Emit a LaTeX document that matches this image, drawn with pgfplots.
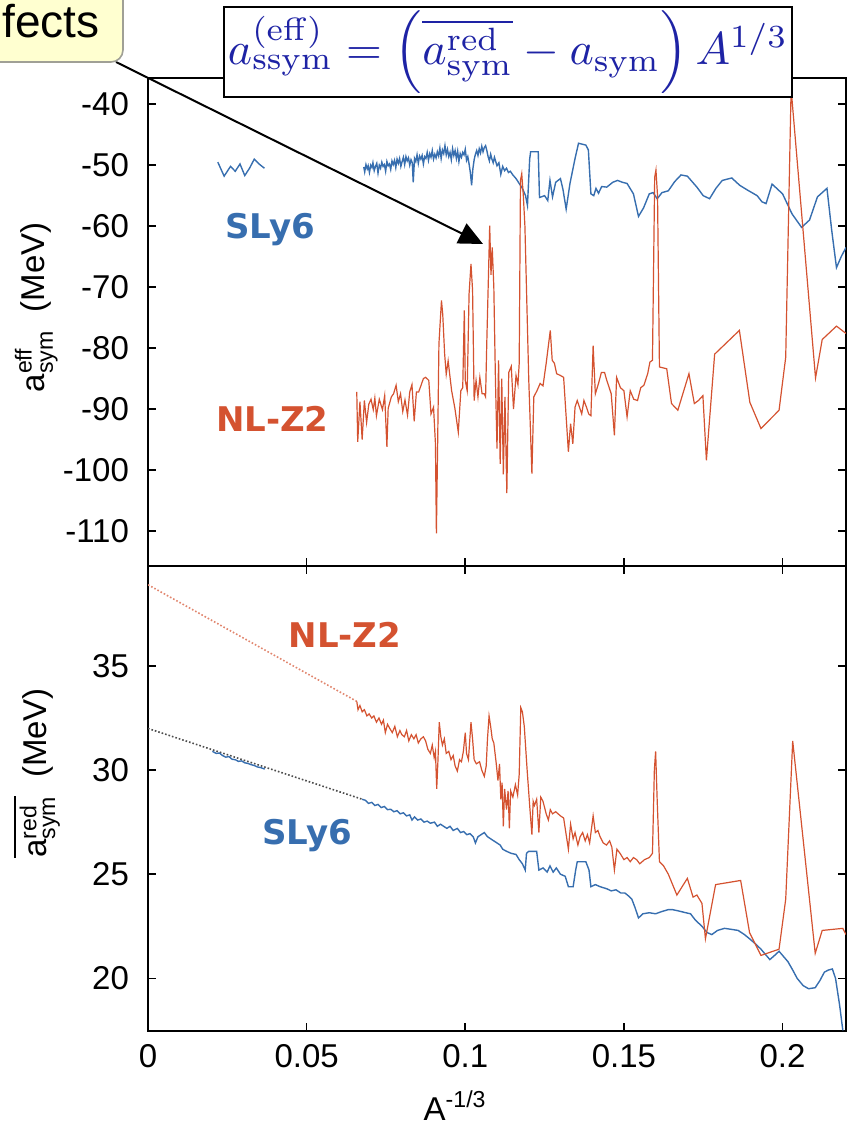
\documentclass[border=0pt]{standalone}
\usepackage{pgfplots}
\pgfplotsset{compat=1.18}
\usepackage{amsmath}
\usepackage{graphicx}
\usepackage[no-math]{fontspec}
\setmainfont{Liberation Sans}
\newfontfamily\labfont{DejaVu Sans}
\usetikzlibrary{arrows.meta}
\definecolor{slyblue}{RGB}{55,110,175}
\definecolor{nlred}{RGB}{212,82,48}
\definecolor{formblue}{RGB}{30,35,165}
\definecolor{calloutfill}{RGB}{255,255,208}
\definecolor{calloutedge}{RGB}{160,160,150}

\pgfplotsset{panel/.style={
  scale only axis, width=349pt, xmin=0, xmax=0.22,
  xtick={0,0.05,0.1,0.15,0.2},
  tick align=inside, major tick length=4pt,
  axis line style={line width=1pt},
  every tick/.style={black,line width=0.8pt},
  tick label style={font=\fontsize{16.5}{20}\selectfont},
  yticklabel style={xshift=-6pt},
  xticklabel style={yshift=-3pt},
  label style={font=\fontsize{16.5}{20}\selectfont},
  clip=true}}

\begin{document}
\begin{tikzpicture}
\useasboundingbox (0,0) rectangle (424.5pt,-571pt);

% ---------------- top panel ----------------
\begin{axis}[panel, at={(74pt,-39pt)}, anchor=north west, height=244pt,
  ymin=-115.75, ymax=-35.7,
  ytick={-110,-100,-90,-80,-70,-60,-50,-40},
  yticklabels={-110,-100,-90,-80,-70,-60,-50,-40},
  xticklabels={},
  ylabel={a$^{\text{eff}}_{\text{sym}}$\ \ (MeV)},
  ylabel style={at={(axis description cs:-0.16,0.53)},anchor=center}]
\addplot[slyblue, line width=0.7pt] coordinates {
(0.0220,-49.5)(0.0240,-51.8)(0.0260,-50.2)(0.0275,-51.0)(0.0290,-49.8)(0.0305,-51.7)
(0.0320,-50.5)(0.0335,-49.0)(0.0350,-49.8)(0.0367,-50.5)};
\addplot[slyblue, line width=0.7pt] coordinates {
(0.0680,-50.3)(0.0683,-51.1)(0.0687,-49.9)(0.0691,-50.6)(0.0694,-50.1)(0.0698,-51.2)
(0.0702,-50.0)(0.0706,-50.4)(0.0709,-49.6)(0.0713,-50.9)(0.0717,-50.2)(0.0721,-49.7)
(0.0725,-51.3)(0.0729,-50.0)(0.0733,-50.5)(0.0737,-49.5)(0.0741,-50.2)(0.0745,-49.9)
(0.0749,-51.0)(0.0753,-49.4)(0.0757,-50.1)(0.0761,-49.8)(0.0765,-50.7)(0.0769,-49.3)
(0.0773,-49.9)(0.0777,-49.2)(0.0781,-50.4)(0.0785,-49.0)(0.0789,-49.7)(0.0793,-48.9)
(0.0797,-50.2)(0.0801,-49.4)(0.0805,-48.7)(0.0809,-49.9)(0.0813,-48.6)(0.0817,-49.3)
(0.0821,-48.8)(0.0825,-50.0)(0.0829,-49.1)(0.0833,-49.6)(0.0836,-52.8)(0.0840,-48.9)
(0.0844,-49.4)(0.0848,-48.3)(0.0852,-49.7)(0.0856,-48.5)(0.0860,-49.0)(0.0864,-48.4)
(0.0868,-49.8)(0.0872,-48.6)(0.0876,-48.9)(0.0880,-47.9)(0.0884,-49.2)(0.0888,-48.1)
(0.0892,-48.7)(0.0896,-47.6)(0.0900,-49.0)(0.0904,-48.2)(0.0908,-48.8)(0.0912,-47.8)
(0.0916,-48.5)(0.0920,-47.2)(0.0924,-48.9)(0.0928,-47.5)(0.0932,-48.1)(0.0936,-46.8)
(0.0940,-48.3)(0.0944,-47.4)(0.0948,-48.6)(0.0952,-47.9)(0.0956,-49.1)(0.0960,-47.3)
(0.0964,-48.4)(0.0968,-47.6)(0.0972,-48.9)(0.0976,-47.7)(0.0980,-49.4)(0.0984,-48.1)
(0.0988,-48.7)(0.0992,-47.9)(0.0996,-48.3)(0.1000,-47.4)(0.1004,-49.2)(0.1008,-48.6)
(0.1012,-49.8)(0.1016,-51.2)(0.1020,-53.3)(0.1024,-50.6)(0.1028,-49.1)(0.1032,-48.2)
(0.1036,-47.6)(0.1040,-48.4)(0.1044,-47.3)(0.1048,-48.0)(0.1052,-46.9)(0.1056,-47.8)
(0.1060,-47.1)(0.1064,-46.8)(0.1068,-47.6)(0.1072,-48.6)(0.1076,-49.3)(0.1080,-48.2)
(0.1084,-49.0)(0.1088,-49.6)(0.1092,-48.7)(0.1096,-49.4)(0.1100,-50.1)(0.1106,-49.6)
(0.1112,-51.5)(0.1118,-50.2)(0.1124,-50.9)(0.1130,-50.5)(0.1136,-51.2)
(0.1142,-51.0)(0.1150,-51.6)(0.1160,-52.2)(0.1170,-53.0)(0.1180,-53.8)(0.1190,-55.0)
(0.1196,-56.6)(0.1203,-49.0)(0.1206,-47.8)(0.1230,-47.8)(0.1234,-55.3)(0.1250,-55.0)
(0.1260,-55.8)(0.1267,-52.5)(0.1275,-55.2)(0.1285,-52.8)(0.1300,-52.2)(0.1308,-54.0)
(0.1318,-57.2)(0.1330,-53.0)(0.1346,-48.9)(0.1357,-46.4)(0.1380,-46.7)(0.1388,-47.5)
(0.1396,-54.7)(0.1405,-55.0)(0.1412,-53.8)(0.1420,-54.6)(0.1430,-53.5)(0.1446,-53.6)
(0.1465,-52.8)(0.1480,-52.5)(0.1495,-52.8)(0.1510,-53.0)(0.1530,-54.7)(0.1546,-58.4)
(0.1562,-57.0)(0.1580,-54.7)(0.1592,-54.5)(0.1605,-55.5)(0.1620,-54.5)(0.1640,-54.2)
(0.1660,-52.7)(0.1680,-51.6)(0.1700,-51.8)(0.1730,-53.6)(0.1750,-55.0)(0.1770,-55.5)
(0.1790,-53.8)(0.1810,-52.5)(0.1840,-52.1)(0.1865,-53.3)(0.1890,-54.1)(0.1920,-55.0)
(0.1935,-56.0)(0.1948,-56.3)(0.1967,-53.1)(0.2000,-54.7)(0.2030,-58.0)(0.2060,-60.2)
(0.2085,-59.0)(0.2110,-55.2)(0.2140,-53.8)(0.2155,-60.7)(0.2170,-66.8)(0.2185,-65.0)
(0.2200,-63.5)};
\addplot[nlred, line width=0.6pt] coordinates {
(0.0658,-87.2)(0.0661,-95.4)(0.0668,-88.8)(0.0675,-95.0)(0.0682,-88.6)(0.0689,-92.2)
(0.0696,-89.2)(0.0703,-88.4)(0.0710,-90.1)(0.0715,-88.2)(0.0720,-91.1)(0.0729,-88.4)
(0.0739,-90.1)(0.0746,-87.8)(0.0753,-96.2)(0.0757,-89.9)(0.0767,-88.0)(0.0774,-87.5)
(0.0782,-86.1)(0.0789,-88.8)(0.0796,-87.5)(0.0803,-90.4)(0.0810,-88.5)(0.0818,-91.0)
(0.0825,-87.2)(0.0832,-86.0)(0.0839,-92.0)(0.0846,-87.2)(0.0853,-87.2)(0.0860,-86.2)
(0.0868,-85.0)(0.0875,-84.8)(0.0885,-85.3)(0.0892,-90.8)(0.0900,-89.7)(0.0906,-95.7)
(0.0909,-110.4)(0.0913,-95.4)(0.0917,-79.3)(0.0925,-72.2)(0.0929,-74.5)(0.0935,-81.0)
(0.0940,-84.3)(0.0946,-82.1)(0.0957,-87.0)(0.0967,-89.8)(0.0978,-93.8)(0.0986,-87.0)
(0.0992,-86.5)(0.0997,-73.8)(0.1000,-85.3)(0.1006,-87.0)(0.1012,-71.1)(0.1018,-66.2)
(0.1023,-70.5)(0.1028,-88.6)(0.1034,-85.3)(0.1040,-88.0)(0.1046,-84.8)(0.1053,-87.5)
(0.1060,-87.5)(0.1064,-88.0)(0.1068,-78.7)(0.1077,-59.9)(0.1081,-68.0)(0.1085,-63.5)
(0.1090,-70.0)(0.1095,-85.0)(0.1100,-96.5)(0.1105,-82.0)(0.1110,-99.0)(0.1115,-85.0)
(0.1120,-100.7)(0.1125,-88.0)(0.1131,-103.8)(0.1137,-84.0)(0.1145,-83.0)(0.1152,-90.0)
(0.1160,-84.5)(0.1166,-86.0)(0.1170,-82.5)(0.1174,-52.5)(0.1178,-51.4)(0.1183,-55.0)
(0.1188,-60.0)(0.1200,-85.0)(0.1210,-100.6)(0.1216,-88.0)(0.1226,-87.0)(0.1236,-85.8)
(0.1245,-86.2)(0.1255,-82.5)(0.1268,-77.1)(0.1274,-82.0)(0.1281,-82.5)(0.1288,-84.2)
(0.1300,-84.5)(0.1310,-84.8)(0.1318,-91.3)(0.1325,-97.0)(0.1332,-92.4)(0.1339,-95.7)
(0.1346,-89.7)(0.1353,-88.6)(0.1360,-89.7)(0.1367,-90.8)(0.1374,-88.6)(0.1382,-89.7)
(0.1389,-90.8)(0.1396,-91.1)(0.1403,-79.6)(0.1410,-87.5)(0.1420,-85.8)(0.1429,-84.0)
(0.1439,-84.0)(0.1446,-85.3)(0.1460,-87.5)(0.1470,-94.3)(0.1477,-84.8)(0.1489,-86.5)
(0.1500,-87.0)(0.1510,-91.3)(0.1520,-87.0)(0.1531,-88.4)(0.1543,-88.6)(0.1553,-86.5)
(0.1563,-86.1)(0.1575,-84.2)(0.1582,-82.3)(0.1590,-82.0)(0.1597,-52.0)(0.1601,-50.8)
(0.1606,-55.0)(0.1612,-83.1)(0.1635,-83.4)(0.1650,-89.1)(0.1670,-90.2)(0.1705,-84.2)
(0.1722,-89.1)(0.1735,-88.6)(0.1749,-87.8)(0.1760,-98.4)(0.1786,-81.0)(0.1864,-77.1)
(0.1897,-88.9)(0.1932,-93.2)(0.1989,-90.2)(0.2010,-81.5)(0.2027,-37.5)(0.2104,-84.9)
(0.2125,-78.6)(0.2170,-76.4)(0.2200,-77.6)};
\node[text=slyblue, font=\labfont\bfseries\fontsize{17}{20}\selectfont] at (axis cs:0.0385,-60.6) {SLy6};
\node[text=nlred, font=\labfont\bfseries\fontsize{17}{20}\selectfont] at (axis cs:0.0392,-91.6) {NL-Z2};
\end{axis}

% ---------------- bottom panel ----------------
\begin{axis}[panel, at={(74pt,-283pt)}, anchor=north west, height=232.5pt,
  ymin=17.47, ymax=39.8,
  ytick={20,25,30,35}, yticklabels={20,25,30,35},
  xticklabels={0,0.05,0.1,0.15,0.2},
  xlabel={A\textsuperscript{-1/3}},
  xlabel style={at={(axis description cs:0.44,-0.16)},anchor=center},
  ylabel={$\overline{\text{a}^{\text{red}}_{\text{sym}}}$\ \ (MeV)},
  ylabel style={at={(axis description cs:-0.16,0.555)},anchor=center}]
\addplot[nlred!70, line width=0.8pt, densely dotted] coordinates {(0,38.9)(0.0658,33.3)};
\addplot[black!70, line width=0.8pt, densely dotted] coordinates {(0,32.0)(0.0675,28.6)};
\addplot[slyblue, line width=0.7pt] coordinates {
(0.0203,30.9)(0.0215,30.8)(0.0225,30.82)(0.0235,30.7)(0.0245,30.62)(0.0255,30.65)
(0.0265,30.52)(0.0275,30.5)(0.0285,30.42)(0.0295,30.44)(0.0305,30.35)(0.0315,30.32)
(0.0325,30.26)(0.0335,30.22)(0.0345,30.15)(0.0355,30.12)(0.0368,30.05)};
\addplot[slyblue, line width=0.7pt] coordinates {
(0.0675,28.6)(0.0685,28.55)(0.0695,28.4)(0.0705,28.45)(0.0715,28.3)(0.0725,28.35)
(0.0735,28.2)(0.0745,28.25)(0.0755,28.1)(0.0765,28.12)(0.0775,28.0)(0.0785,28.05)
(0.0795,27.9)(0.0805,27.95)(0.0815,27.8)(0.0825,27.85)(0.0832,27.6)(0.0840,27.75)
(0.0850,27.6)(0.0860,27.65)(0.0870,27.5)(0.0880,27.55)(0.0890,27.45)(0.0903,27.5)
(0.0912,27.3)(0.0922,27.4)(0.0932,27.3)(0.0942,27.2)(0.0952,27.3)(0.0962,27.1)
(0.0975,27.2)(0.0985,27.0)(0.0995,27.05)(0.1005,26.9)(0.1015,26.95)(0.1025,26.8)
(0.1032,26.5)(0.1040,26.8)(0.1050,26.9)(0.1060,27.0)(0.1070,26.8)(0.1080,26.7)
(0.1090,26.6)(0.1100,26.5)(0.1110,26.4)(0.1118,26.2)(0.1130,26.1)(0.1145,26.0)
(0.1160,25.95)(0.1170,25.7)(0.1180,25.5)(0.1189,25.2)(0.1193,26.0)(0.1200,26.1)
(0.1225,26.1)(0.1232,25.2)(0.1245,25.3)(0.1258,25.1)(0.1267,25.4)(0.1277,25.1)
(0.1287,25.3)(0.1300,25.0)(0.1315,24.9)(0.1325,24.4)(0.1340,24.4)(0.1348,25.2)
(0.1353,25.6)(0.1380,25.6)(0.1390,25.2)(0.1396,24.4)(0.1410,24.5)(0.1425,24.4)
(0.1446,24.3)(0.1460,24.2)(0.1475,24.25)(0.1490,24.1)(0.1503,24.1)(0.1515,23.95)
(0.1525,23.8)(0.1535,23.4)(0.1546,22.9)(0.1560,23.1)(0.1580,23.15)(0.1600,23.1)
(0.1618,23.2)(0.1640,23.3)(0.1653,23.3)(0.1668,23.25)(0.1682,23.2)(0.1695,23.15)
(0.1710,23.1)(0.1725,22.8)(0.1746,22.5)(0.1762,22.2)(0.1777,22.1)(0.1795,22.3)
(0.1817,22.4)(0.1840,22.35)(0.1860,22.3)(0.1880,22.1)(0.1896,21.9)(0.1915,21.65)
(0.1932,21.4)(0.1946,21.15)(0.1960,20.9)(0.1975,21.1)(0.1989,21.3)(0.2003,21.05)
(0.2017,20.8)(0.2032,20.4)(0.2046,20.0)(0.2065,19.65)(0.2082,19.5)(0.2103,19.55)
(0.2118,19.9)(0.2132,20.3)(0.2145,20.4)(0.2157,20.45)(0.2167,20.0)(0.2180,18.7)
(0.2190,17.5)};
\addplot[nlred, line width=0.6pt] coordinates {
(0.0658,33.3)(0.0662,32.9)(0.0668,33.1)(0.0675,32.8)(0.0682,32.9)(0.0690,32.6)
(0.0697,32.7)(0.0705,32.5)(0.0712,32.6)(0.0720,32.3)(0.0728,32.5)(0.0736,32.2)
(0.0742,32.4)(0.0748,31.8)(0.0755,32.2)(0.0762,32.0)(0.0770,31.8)(0.0778,32.1)
(0.0786,31.6)(0.0794,31.9)(0.0800,31.7)(0.0808,31.6)(0.0815,31.9)(0.0822,31.4)
(0.0830,31.7)(0.0838,31.5)(0.0845,31.7)(0.0852,31.3)(0.0860,31.5)(0.0868,31.6)
(0.0875,31.4)(0.0882,31.0)(0.0890,30.8)(0.0896,31.2)(0.0902,30.6)(0.0906,30.9)
(0.0910,29.1)(0.0914,30.5)(0.0918,32.3)(0.0923,31.6)(0.0928,31.2)(0.0934,31.5)
(0.0940,30.8)(0.0948,30.9)(0.0955,30.5)(0.0962,30.7)(0.0968,30.2)(0.0975,29.95)
(0.0982,30.5)(0.0988,30.4)(0.0994,30.9)(0.1000,31.8)(0.1004,30.8)(0.1010,30.5)
(0.1018,32.3)(0.1023,31.5)(0.1028,30.5)(0.1035,30.3)(0.1045,30.4)(0.1052,30.0)
(0.1060,29.7)(0.1066,30.2)(0.1070,31.5)(0.1075,32.6)(0.1080,32.1)(0.1085,31.5)
(0.1090,31.3)(0.1097,30.4)(0.1103,29.5)(0.1108,30.3)(0.1112,28.6)(0.1116,29.4)
(0.1120,27.3)(0.1124,29.1)(0.1130,28.1)(0.1135,29.0)(0.1139,27.2)(0.1143,29.0)
(0.1150,28.7)(0.1158,29.3)(0.1165,28.8)(0.1170,29.8)(0.1175,33.0)(0.1180,32.8)
(0.1186,32.1)(0.1195,30.0)(0.1203,28.3)(0.1210,26.9)(0.1214,28.5)(0.1218,28.3)
(0.1225,28.6)(0.1232,27.0)(0.1238,28.7)(0.1245,28.5)(0.1255,27.9)(0.1262,27.6)
(0.1268,28.1)(0.1275,27.9)(0.1285,28.0)(0.1300,27.8)(0.1310,27.7)(0.1318,26.9)
(0.1325,26.2)(0.1332,27.4)(0.1340,26.7)(0.1346,27.0)(0.1355,26.4)(0.1362,26.8)
(0.1370,27.0)(0.1378,26.6)(0.1385,26.9)(0.1392,26.5)(0.1403,27.8)(0.1410,27.0)
(0.1418,27.1)(0.1425,26.8)(0.1435,26.5)(0.1445,26.4)(0.1455,26.6)(0.1462,26.3)
(0.1470,25.2)(0.1478,26.2)(0.1488,26.0)(0.1500,25.7)(0.1510,25.8)(0.1520,25.6)
(0.1530,25.8)(0.1540,25.7)(0.1550,25.5)(0.1565,25.7)(0.1580,25.8)(0.1590,26.0)
(0.1596,30.0)(0.1600,30.9)(0.1605,28.5)(0.1612,25.6)(0.1625,25.4)(0.1640,25.0)
(0.1667,24.0)(0.1700,24.8)(0.1718,23.9)(0.1730,24.0)(0.1746,23.6)(0.1757,21.9)
(0.1789,24.5)(0.1868,24.7)(0.1896,22.2)(0.1932,21.1)(0.1989,21.4)(0.2010,23.8)
(0.2032,31.4)(0.2103,21.2)(0.2125,22.3)(0.2190,22.4)(0.2200,22.1)};
\node[text=nlred, font=\labfont\bfseries\fontsize{17}{20}\selectfont] at (axis cs:0.0621,36.5) {NL-Z2};
\node[text=slyblue, font=\labfont\bfseries\fontsize{17}{20}\selectfont] at (axis cs:0.0502,26.85) {SLy6};
\end{axis}

% ---------------- overlays ----------------
\draw[line width=1pt, -{Triangle[length=12pt,width=11pt]}] (58pt,-31pt) -- (241.5pt,-122pt);
\draw[calloutedge, fill=calloutfill, line width=0.8pt, rounded corners=6pt]
  (-30pt,10pt) rectangle (61.5pt,-31pt);
\node[anchor=base east, inner sep=0pt, font=\fontsize{23}{26}\selectfont] at (50pt,-18.5pt) {fects};
\draw[line width=1.25pt, fill=white] (112pt,-3.5pt) rectangle (396pt,-48.5pt);
\node[text=formblue, inner sep=0pt] at (254pt,-26.3pt)
  {\resizebox{280pt}{!}{$a^{(\mathrm{eff})}_{\mathrm{ssym}} = \left(\overline{a^{\mathrm{red}}_{\mathrm{sym}}} - a_{\mathrm{sym}}\right) A^{1/3}$}};
\end{tikzpicture}
\end{document}
